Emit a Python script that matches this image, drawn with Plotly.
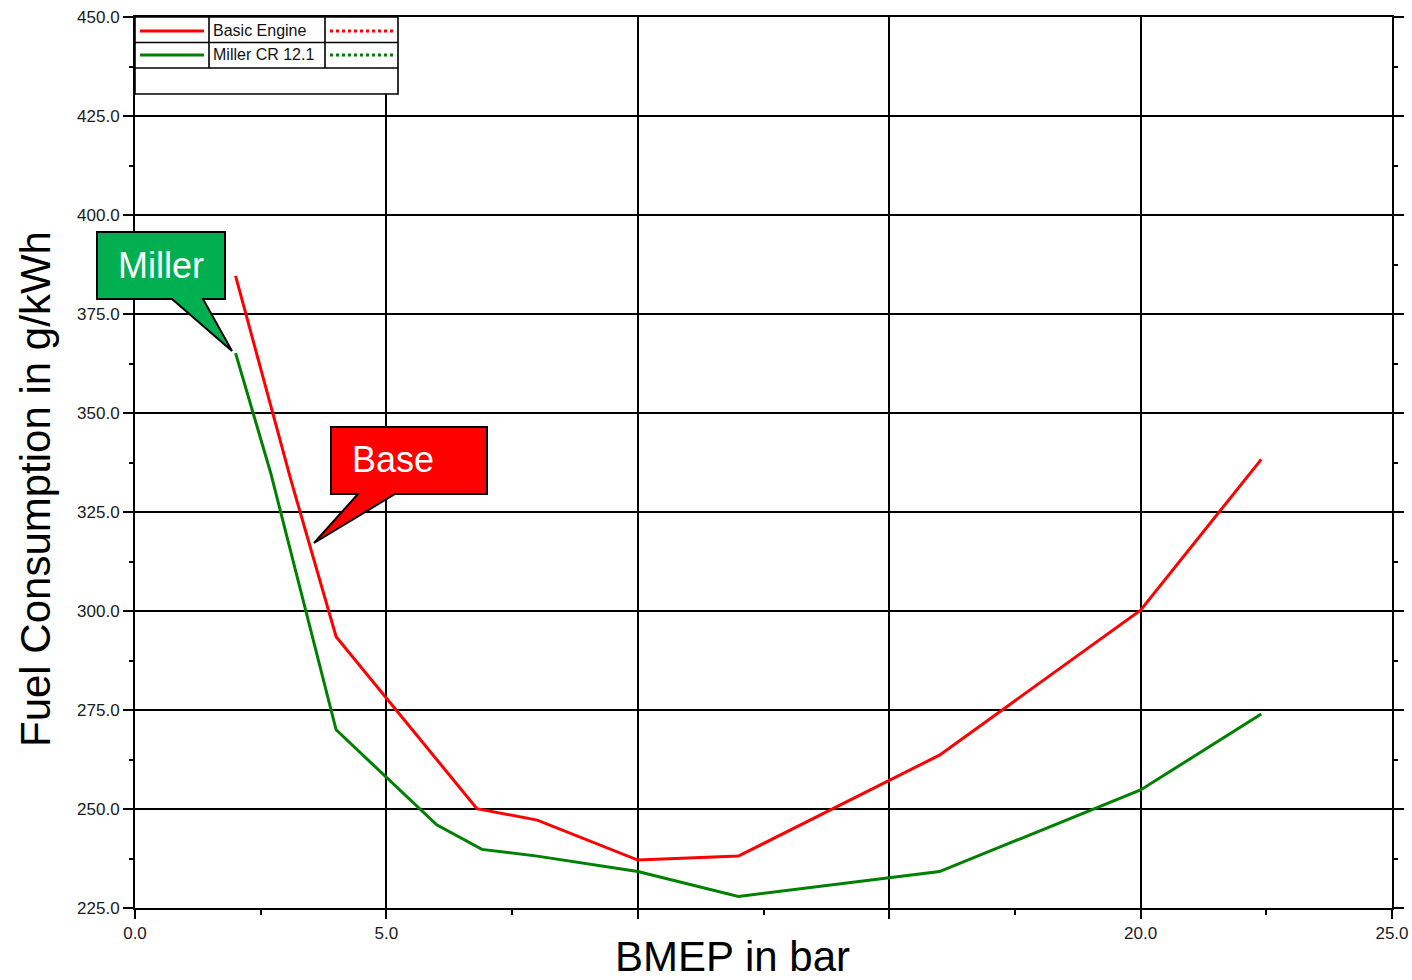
import plotly.graph_objects as go

# ---------------- data ----------------
bmep_basic = [2.0, 3.1, 4.0, 6.8, 8.0, 10.0, 12.0, 16.0, 20.0, 22.4]
bsfc_basic = [384.6, 333.1, 293.5, 250.1, 247.2, 237.1, 238.1, 263.6, 300.2, 338.3]

bmep_miller = [2.0, 2.7, 4.0, 6.0, 6.9, 8.0, 10.0, 12.0, 16.0, 20.0, 22.4]
bsfc_miller = [365.1, 334.8, 270.0, 246.0, 239.8, 238.1, 234.2, 227.9, 234.2, 254.8, 274.0]

x_tickvals = [0, 5, 10, 15, 20, 25]
x_ticktext = ["0.0", "5.0", "", "", "20.0", "25.0"]
y_tickvals = [225, 250, 275, 300, 325, 350, 375, 400, 425, 450]
y_ticktext = ["225.0", "250.0", "275.0", "300.0", "325.0", "350.0", "375.0", "400.0", "425.0", "450.0"]

series_names = ["Basic Engine", "Miller CR 12.1"]
series_colors = ["#ff0000", "#008000"]

# ---------------- layout geometry (pixels) ----------------
W, H = 1412, 980
L, R, T, B = 135, 1392, 17, 908
PW, PH = R - L, B - T


def px(x):
    return (x - L) / PW


def py(y):
    return (B - y) / PH


TICKFONT = dict(family="Liberation Sans, Arial", size=17, color="#1a1a1a")

fig = go.Figure()
fig.add_trace(go.Scatter(x=bmep_basic, y=bsfc_basic, mode="lines",
                         line=dict(color=series_colors[0], width=3), name=series_names[0],
                         showlegend=False))
fig.add_trace(go.Scatter(x=bmep_miller, y=bsfc_miller, mode="lines",
                         line=dict(color=series_colors[1], width=3), name=series_names[1],
                         showlegend=False))

fig.update_layout(
    width=W, height=H,
    margin=dict(l=L, r=W - R, t=T, b=H - B, pad=0),
    paper_bgcolor="white", plot_bgcolor="white",
    showlegend=False,
    xaxis=dict(range=[0, 25], tickvals=x_tickvals, ticktext=x_ticktext,
               showgrid=True, gridcolor="#000000", gridwidth=2,
               showline=True, linecolor="#000000", linewidth=2, mirror=True,
               ticks="outside", ticklen=9, tickwidth=1.5, tickcolor="#000000",
               minor=dict(dtick=2.5, tick0=0, ticks="outside", ticklen=5, tickwidth=1.5,
                          tickcolor="#000000", showgrid=False),
               tickfont=TICKFONT, zeroline=False, fixedrange=True, automargin=False),
    yaxis=dict(range=[225, 450], tickvals=y_tickvals, ticktext=y_ticktext,
               showgrid=True, gridcolor="#000000", gridwidth=2,
               showline=True, linecolor="#000000", linewidth=2, mirror="ticks",
               ticks="outside", ticklen=10, tickwidth=1.5, tickcolor="#000000",
               minor=dict(dtick=12.5, tick0=225, ticks="outside", ticklen=4, tickwidth=1.5,
                          tickcolor="#000000", showgrid=False),
               tickfont=TICKFONT, zeroline=False, fixedrange=True, automargin=False),
)

shapes = []
annotations = []

# ---------------- legend table ----------------
lw = 1.6
shapes.append(dict(type="rect", xref="paper", yref="paper",
                   x0=px(135), x1=px(398), y0=py(94), y1=py(17),
                   line=dict(color="black", width=lw), fillcolor="white", layer="above"))
for yy in (42.5, 68):
    shapes.append(dict(type="line", xref="paper", yref="paper",
                       x0=px(135), x1=px(398), y0=py(yy), y1=py(yy),
                       line=dict(color="black", width=lw)))
for xx in (209, 325):
    shapes.append(dict(type="line", xref="paper", yref="paper",
                       x0=px(xx), x1=px(xx), y0=py(17), y1=py(68),
                       line=dict(color="black", width=lw)))
for i, (name, col) in enumerate(zip(series_names, series_colors)):
    yy = 31 + i * 24
    shapes.append(dict(type="line", xref="paper", yref="paper",
                       x0=px(140), x1=px(204), y0=py(yy), y1=py(yy),
                       line=dict(color=col, width=3)))
    shapes.append(dict(type="line", xref="paper", yref="paper",
                       x0=px(330), x1=px(395), y0=py(yy), y1=py(yy),
                       line=dict(color=col, width=3, dash="dot")))
    annotations.append(dict(xref="paper", yref="paper", x=px(211), y=py(yy - 1),
                            xanchor="left", yanchor="middle", showarrow=False,
                            text=name,
                            font=dict(family="Liberation Sans, Arial", size=16, color="#111")))


# ---------------- callouts ----------------
def callout(box, tail, fill):
    x0, y0, x1, y1 = box
    (b1, b2, tip) = tail
    pts = [(x0, y0), (x1, y0), (x1, y1), (b2, y1), tip, (b1, y1), (x0, y1)]
    path = "M " + " L ".join(f"{px(a):.5f},{py(b):.5f}" for a, b in pts) + " Z"
    return dict(type="path", xref="paper", yref="paper", path=path,
                fillcolor=fill, line=dict(color="black", width=2), layer="above")


shapes.append(callout((97, 232, 225, 299), (172, 203, (232, 351)), "#00b050"))
shapes.append(callout((331, 427, 487, 494), (358, 395, (314, 543)), "#ff0000"))
annotations.append(dict(xref="paper", yref="paper", x=px(161), y=py(265), showarrow=False,
                        text="Miller", xanchor="center", yanchor="middle",
                        font=dict(family="Liberation Sans, Arial", size=36, color="white")))
annotations.append(dict(xref="paper", yref="paper", x=px(393), y=py(460), showarrow=False,
                        text="Base", xanchor="center", yanchor="middle",
                        font=dict(family="Liberation Sans, Arial", size=36, color="white")))

# ---------------- axis titles ----------------
annotations.append(dict(xref="paper", yref="paper", x=px(732), y=py(956), showarrow=False,
                        text="BMEP in bar", xanchor="center", yanchor="middle",
                        font=dict(family="Liberation Sans, Arial", size=42, color="black")))
annotations.append(dict(xref="paper", yref="paper", x=px(35), y=py(489), showarrow=False,
                        text="Fuel Consumption in g/kWh", textangle=-90,
                        xanchor="center", yanchor="middle",
                        font=dict(family="Liberation Sans, Arial", size=42, color="black")))

fig.update_layout(shapes=shapes, annotations=annotations)
fig.write_html(
    "out.html",
    config={"displayModeBar": False, "responsive": False},
    post_script=(
        "document.body.style.margin='0';"
        "document.body.style.overflow='hidden';"
        "document.documentElement.style.overflow='hidden';"
    ),
)
